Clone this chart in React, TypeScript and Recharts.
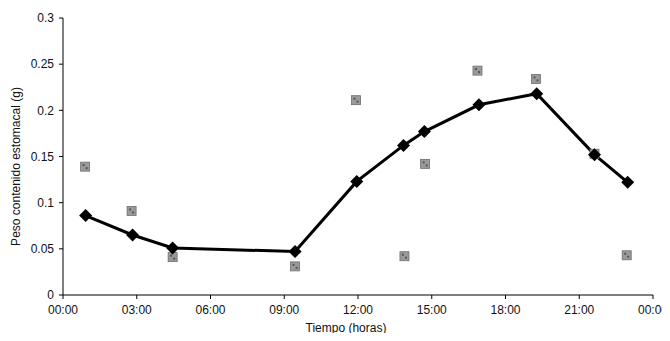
import { ComposedChart, Line, Scatter, XAxis, YAxis } from 'recharts';

// mean curve (hours, grams)
const lineHours = [0.92, 2.83, 4.46, 9.44, 11.95, 13.85, 14.7, 16.92, 19.27, 21.62, 22.97];
const lineWeight = [0.086, 0.065, 0.051, 0.047, 0.123, 0.162, 0.177, 0.206, 0.218, 0.152, 0.122];

// individual observations
const obsHours = [0.9, 2.79, 4.46, 9.44, 11.92, 13.89, 14.73, 16.86, 19.24, 21.62, 22.93];
const obsWeight = [0.139, 0.091, 0.041, 0.031, 0.211, 0.042, 0.142, 0.243, 0.234, 0.153, 0.043];

const xTicks = [0, 3, 6, 9, 12, 15, 18, 21, 24];
const yTicks = [0, 0.05, 0.1, 0.15, 0.2, 0.25, 0.3];

const lineData = lineHours.map((h, i) => ({ h, w: lineWeight[i] }));
const obsData = obsHours.map((h, i) => ({ h, w: obsWeight[i] }));

const fmtHour = (v: number) => String(v % 24).padStart(2, '0') + ':00';

const Diamond = (props: any) => {
  const { cx, cy } = props;
  if (cx == null || cy == null) return null;
  const r = 6.5;
  return <path d={`M${cx},${cy - r}L${cx + r},${cy}L${cx},${cy + r}L${cx - r},${cy}Z`} fill="#000" />;
};

const GraySquare = (props: any) => {
  const { cx, cy } = props;
  if (cx == null || cy == null) return null;
  const s = 9;
  return (
    <g>
      <rect x={cx - s / 2} y={cy - s / 2} width={s} height={s} fill="#9a9a9a" stroke="#6e6e6e" strokeWidth={0.8} />
      <rect x={cx - 2.5} y={cy - 2.5} width={2} height={2} fill="#555" />
      <rect x={cx + 0.5} y={cy + 0.5} width={2} height={2} fill="#555" />
    </g>
  );
};

const font = { fontFamily: '"Liberation Sans", Arial, sans-serif', fontSize: 12, fill: '#111' };

const YTitle = (props: any) => {
  const vb = props.viewBox || {};
  const x = 16;
  const y = (vb.y ?? 18) + (vb.height ?? 277) / 2 + 10;
  return (
    <text x={x} y={y} transform={`rotate(-90, ${x}, ${y})`} textAnchor="middle" dominantBaseline="central" style={font}>
      Peso contenido estomacal (g)
    </text>
  );
};

const XTitle = (props: any) => {
  const vb = props.viewBox || {};
  const x = (vb.x ?? 63) + (vb.width ?? 590) / 2 - 12;
  return (
    <text x={x} y={328} textAnchor="middle" dominantBaseline="central" style={font}>
      Tiempo (horas)
    </text>
  );
};

export default function App() {
  return (
    <div style={{ margin: -8, width: 670, height: 341, background: '#fff' }}>
      <ComposedChart width={670} height={341} margin={{ top: 18, right: 17, bottom: 0, left: 0 }}>
        <XAxis
          type="number"
          dataKey="h"
          domain={[0, 24]}
          ticks={xTicks}
          tickFormatter={fmtHour}
          stroke="#000"
          tickSize={4}
          tickMargin={6}
          tick={font}
          height={46}
          label={<XTitle />}
        />
        <YAxis
          type="number"
          dataKey="w"
          domain={[0, 0.3]}
          ticks={yTicks}
          tickFormatter={(v: number) => String(v)}
          stroke="#000"
          tickSize={4}
          tickMargin={5}
          tick={font}
          width={63}
          label={<YTitle />}
        />
        <Scatter data={obsData} dataKey="w" shape={<GraySquare />} isAnimationActive={false} />
        <Line
          data={lineData}
          dataKey="w"
          type="linear"
          stroke="#000"
          strokeWidth={3}
          dot={<Diamond />}
          activeDot={false}
          isAnimationActive={false}
        />
      </ComposedChart>
    </div>
  );
}
